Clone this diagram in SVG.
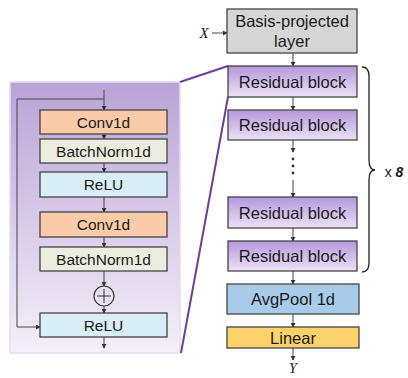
<svg xmlns="http://www.w3.org/2000/svg" width="408" height="378" viewBox="0 0 408 378">
<defs>
<linearGradient id="panelG" x1="0" y1="0" x2="0" y2="1">
<stop offset="0" stop-color="#b9a3d6"/>
<stop offset="1" stop-color="#f5f0f9"/>
</linearGradient>
<linearGradient id="resG" x1="0" y1="0" x2="0" y2="1">
<stop offset="0" stop-color="#b596dc"/>
<stop offset="1" stop-color="#ece2f5"/>
</linearGradient>
<marker id="ah" viewBox="0 0 6 6" refX="5" refY="3" markerWidth="5" markerHeight="5" orient="auto">
<path d="M0,0 L6,3 L0,6 z" fill="#333"/>
</marker>
</defs>
<style>
text{font-family:"Liberation Sans",Arial,sans-serif;fill:#1a1a1a;text-anchor:middle}
.b{stroke:#444;stroke-width:1.3}
.t{font-size:16.5px}
.s{font-size:15.5px}
.c{stroke:#444;stroke-width:1;fill:none}
.a{marker-end:url(#ah)}
</style>
<rect id="panel" x="10" y="82" width="170" height="271" fill="url(#panelG)" stroke="#e6dcef" stroke-width="1.5"/>
<g id="zoomlines" stroke="#6b3f9a" stroke-width="2" fill="none">
<line x1="180" y1="82" x2="228" y2="66"/>
<line x1="181" y1="353" x2="228" y2="97"/>
</g>
<g id="connectors">
<line class="c a" x1="104" y1="90" x2="104" y2="110"/>
<line class="c a" x1="104" y1="134" x2="104" y2="139"/>
<line class="c a" x1="104" y1="163" x2="104" y2="172"/>
<line class="c a" x1="104" y1="197" x2="104" y2="212"/>
<line class="c a" x1="104" y1="237" x2="104" y2="247"/>
<line class="c a" x1="104" y1="271" x2="104" y2="286"/>
<line class="c a" x1="104" y1="306" x2="104" y2="313"/>
<line class="c a" x1="104" y1="337" x2="104" y2="348"/>
<polyline class="c a" points="104,99 17,99 17,327 40,327"/>
<line class="c a" x1="212" y1="33" x2="227" y2="33"/>
<line class="c a" x1="293" y1="53" x2="293" y2="66"/>
<line class="c a" x1="293" y1="97" x2="293" y2="110"/>
<line class="c a" x1="293" y1="140" x2="293" y2="152"/>
<line class="c a" x1="293" y1="180" x2="293" y2="197"/>
<line class="c a" x1="293" y1="228" x2="293" y2="241"/>
<line class="c a" x1="293" y1="271" x2="293" y2="284"/>
<line class="c a" x1="293" y1="314" x2="293" y2="327"/>
<line class="c a" x1="293" y1="348" x2="293" y2="360"/>
</g>
<g id="dots" fill="#333">
<circle cx="293" cy="159" r="1.4"/>
<circle cx="293" cy="166" r="1.4"/>
<circle cx="293" cy="173" r="1.4"/>
</g>
<g id="conv1"><rect class="b" x="40" y="110" width="127" height="24" fill="#f9cba8"/><text class="s" x="103.5" y="127.5">Conv1d</text></g>
<g id="bn1"><rect class="b" x="40" y="139" width="127" height="24" fill="#ebeedf"/><text class="s" x="103.5" y="156.5">BatchNorm1d</text></g>
<g id="relu1"><rect class="b" x="40" y="172" width="127" height="25" fill="#d9edf6"/><text class="s" x="103.5" y="190">ReLU</text></g>
<g id="conv2"><rect class="b" x="40" y="212" width="127" height="25" fill="#f9cba8"/><text class="s" x="103.5" y="230">Conv1d</text></g>
<g id="bn2"><rect class="b" x="40" y="247" width="127" height="24" fill="#ebeedf"/><text class="s" x="103.5" y="264.5">BatchNorm1d</text></g>
<g id="add"><circle cx="104" cy="296" r="10" fill="none" stroke="#333" stroke-width="1.2"/><path d="M97,296 H111 M104,289 V303" stroke="#333" stroke-width="1"/></g>
<g id="relu2"><rect class="b" x="40" y="313" width="127" height="24" fill="#d9edf6"/><text class="s" x="103.5" y="330.5">ReLU</text></g>
<g id="xlabel"><text x="204" y="38" style="font-family:'Liberation Serif',serif;font-style:italic;font-size:15px">X</text></g>
<g id="basis"><rect class="b" x="227" y="9" width="130" height="44" fill="#d6d6d6"/><text class="t" x="292" y="27">Basis-projected</text><text class="t" x="292" y="47">layer</text></g>
<g id="res1"><rect class="b" x="228" y="66" width="129" height="31" fill="url(#resG)"/><text class="t" x="292.5" y="87.5">Residual block</text></g>
<g id="res2"><rect class="b" x="228" y="110" width="129" height="30" fill="url(#resG)"/><text class="t" x="292.5" y="131">Residual block</text></g>
<g id="res3"><rect class="b" x="228" y="197" width="129" height="31" fill="url(#resG)"/><text class="t" x="292.5" y="218.5">Residual block</text></g>
<g id="res4"><rect class="b" x="228" y="241" width="129" height="30" fill="url(#resG)"/><text class="t" x="292.5" y="262">Residual block</text></g>
<g id="avgpool"><rect class="b" x="227" y="284" width="132" height="30" fill="#a8cbea"/><text class="t" x="293" y="305">AvgPool 1d</text></g>
<g id="linear"><rect class="b" x="227" y="327" width="132" height="21" fill="#fcd26a"/><text class="t" x="293" y="343.5">Linear</text></g>
<g id="ylabel"><text x="293" y="373" style="font-family:'Liberation Serif',serif;font-style:italic;font-size:14px">Y</text></g>
<g id="brace"><path d="M362,67 Q369,67 369,76 L369,160 Q369,170 375,170 Q369,170 369,180 L369,263 Q369,272 362,272" fill="none" stroke="#222" stroke-width="1.3"/></g>
<g id="times"><text x="394" y="177" style="font-size:14px">x <tspan font-weight="bold" font-style="italic">8</tspan></text></g>
</svg>
